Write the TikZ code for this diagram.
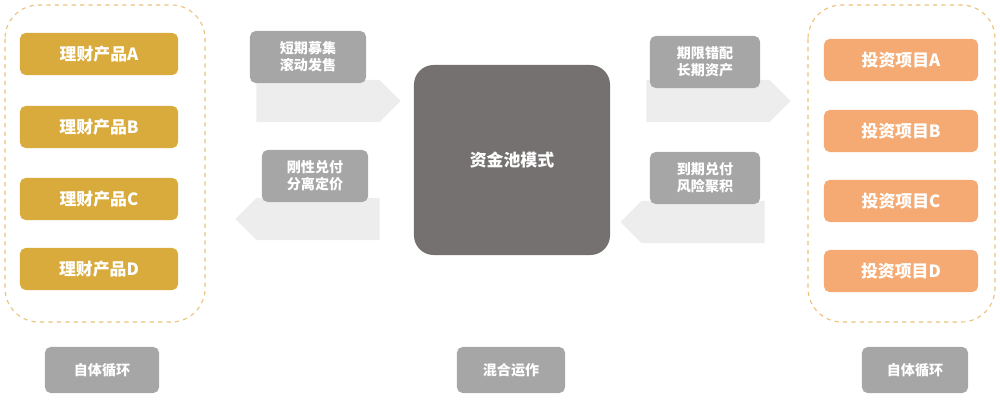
\documentclass[tikz,border=0pt]{standalone}
\usepackage{fontspec}
\setmainfont{Noto Sans CJK SC}
\usetikzlibrary{shapes.arrows}
\definecolor{gold}{HTML}{D9AA3C}
\definecolor{peach}{HTML}{F4AA72}
\definecolor{label}{HTML}{A6A6A6}
\definecolor{pool}{HTML}{767171}
\definecolor{frame}{HTML}{EBC27C}
\definecolor{flow}{HTML}{EDEDED}
\tikzset{
  prod/.style={fill=gold, rounded corners=4pt, text=white, font=\bfseries\large},
  proj/.style={fill=peach, rounded corners=4pt, text=white, font=\bfseries\large},
  tag/.style={fill=label, rounded corners=4pt, text=white, font=\bfseries, align=center, inner sep=0pt},
  group/.style={draw=frame, dashed, rounded corners=24pt, line width=0.8pt},
  flowarrow/.style={single arrow, fill=flow, minimum height=3.6cm, minimum width=1.05cm,
    single arrow head extend=0pt, single arrow tip angle=90, inner sep=0pt}
}
\begin{document}
\begin{tikzpicture}[x=0.025cm,y=-0.025cm]
            \useasboundingbox (0,0) rectangle (1000,401);
            % left group
            \draw[group] (5,5) rectangle (205,322);
            \node[prod, minimum width=3.95cm, minimum height=1.05cm] (pa) at (99,54) {理财产品A};
            \node[prod, minimum width=3.95cm, minimum height=1.05cm] (pb) at (99,127) {理财产品B};
            \node[prod, minimum width=3.95cm, minimum height=1.05cm] (pc) at (99,199) {理财产品C};
            \node[prod, minimum width=3.95cm, minimum height=1.05cm] (pd) at (99,269) {理财产品D};
            \node[tag, minimum width=2.85cm, minimum height=1.15cm] (cycl) at (102,370) {自体循环};
            % pool
            \node[fill=pool, rounded corners=14pt, minimum width=4.9cm, minimum height=4.75cm,
              text=white, font=\bfseries\large] (pool) at (512,160) {资金池模式};
            \node[tag, minimum width=2.7cm, minimum height=1.15cm] (mix) at (511,370) {混合运作};
            % right group
            \draw[group] (808,5) rectangle (995,322);
            \node[proj, minimum width=3.85cm, minimum height=1.05cm] (ja) at (901,60) {投资项目A};
            \node[proj, minimum width=3.85cm, minimum height=1.05cm] (jb) at (901,131) {投资项目B};
            \node[proj, minimum width=3.85cm, minimum height=1.05cm] (jc) at (901,201) {投资项目C};
            \node[proj, minimum width=3.85cm, minimum height=1.05cm] (jd) at (901,271) {投资项目D};
            \node[tag, minimum width=2.65cm, minimum height=1.15cm] (cycr) at (915,370) {自体循环};
            % flows
            \node[flowarrow] (fa) at (318,101) {};
            \node[flowarrow, shape border rotate=180] (fb) at (318,219) {};
            \node[flowarrow] (fc) at (708,101) {};
            \node[flowarrow, shape border rotate=180] (fd) at (703,222) {};
            \node[tag, minimum width=2.9cm, minimum height=1.3cm] (ta) at (308,57) {短期募集\\滚动发售};
            \node[tag, minimum width=2.65cm, minimum height=1.3cm] (tb) at (315,176) {刚性兑付\\分离定价};
            \node[tag, minimum width=2.75cm, minimum height=1.3cm] (tc) at (705,62) {期限错配\\长期资产};
            \node[tag, minimum width=2.75cm, minimum height=1.3cm] (td) at (705,178) {到期兑付\\风险聚积};
        \end{tikzpicture}
\end{document}
